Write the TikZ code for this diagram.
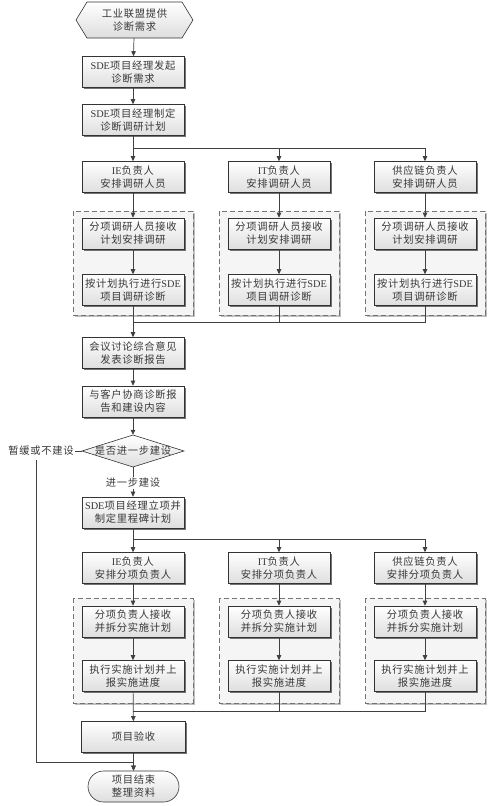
\documentclass[tikz,border=0pt]{standalone}
\usepackage{fontspec}
\setmainfont{Noto Sans CJK SC}[LetterSpace=7]
\newfontfamily\lat{Liberation Serif}
\usetikzlibrary{shadows,arrows.meta,shapes.misc}
\begin{document}
\begin{tikzpicture}[x=1pt,y=-1pt,
  font=\fontsize{10.3}{13}\selectfont,
  every node/.style={text=black!78},
  shd/.style={drop shadow={shadow xshift=1.8pt,shadow yshift=-1.8pt,fill=black!55,opacity=1}},
  grad/.style={top color=white,bottom color=black!13},
  box/.style={draw=black!80,line width=0.6pt,grad,shd,minimum width=102,minimum height=31,inner sep=1pt,align=center},
  grp/.style={draw=black!55,line width=1pt,dash pattern=on 5pt off 3pt,fill=black!4,
    drop shadow={shadow xshift=1.5pt,shadow yshift=-1.5pt,fill=black!25,opacity=1}},
  ln/.style={draw=black!75,line width=0.7pt},
  arr/.style={ln,-{Triangle[length=5pt,width=4.5pt]}},
  lbl/.style={inner sep=1pt,align=center}
]
\useasboundingbox (0,0) rectangle (491,806);

% ---------- start hexagon
\path[draw=black!80,line width=0.6pt,grad] (76,20) -- (87,2) -- (182,2) -- (193,20) -- (182,38) -- (87,38) -- cycle;
\node[lbl,minimum width=117,minimum height=36] (start) at (134.5,20) {工业联盟提供\\诊断需求};

\node[box] (b2) at (133,72) {{\lat SDE}项目经理发起\\诊断需求};
\node[box] (b3) at (133,120) {{\lat SDE}项目经理制定\\诊断调研计划};

% ---------- groups row 1
\path[grp] (73,211) rectangle (193,315);
\path[grp] (219,211) rectangle (339,315);
\path[grp] (365,211) rectangle (485,315);

\node[box] (a1) at (133,177) {{\lat IE}负责人\\安排调研人员};
\node[box] (a2) at (279,177) {{\lat IT}负责人\\安排调研人员};
\node[box] (a3) at (425,177) {供应链负责人\\安排调研人员};

\node[box] (c1) at (133,233.5) {分项调研人员接收\\计划安排调研};
\node[box] (c2) at (279,233.5) {分项调研人员接收\\计划安排调研};
\node[box] (c3) at (425,233.5) {分项调研人员接收\\计划安排调研};

\node[box] (d1) at (133,290) {按计划执行进行{\lat SDE}\\项目调研诊断};
\node[box] (d2) at (279,290) {按计划执行进行{\lat SDE}\\项目调研诊断};
\node[box] (d3) at (425,290) {按计划执行进行{\lat SDE}\\项目调研诊断};

\node[box] (m) at (133,353) {会议讨论综合意见\\发表诊断报告};
\node[box] (n) at (133,401.5) {与客户协商诊断报\\告和建设内容};

% ---------- decision
\path[draw=black!80,line width=0.6pt,grad] (82,451) -- (133,435) -- (184,451) -- (133,467) -- cycle;
\node[lbl,minimum width=102,minimum height=32,inner sep=0] (dia) at (133,451) {是否进一步建设};
\node[lbl,anchor=east] (no) at (75,451) {暂缓或不建设};
\node[lbl] (yes) at (133,483) {进一步建设};

\node[box] (p) at (133,512.5) {{\lat SDE}项目经理立项并\\制定里程碑计划};

% ---------- groups row 2
\path[grp] (73,598) rectangle (193,703);
\path[grp] (219,598) rectangle (339,703);
\path[grp] (365,598) rectangle (485,703);

\node[box] (e1) at (133,568) {{\lat IE}负责人\\安排分项负责人};
\node[box] (e2) at (279,568) {{\lat IT}负责人\\安排分项负责人};
\node[box] (e3) at (425,568) {供应链负责人\\安排分项负责人};

\node[box] (f1) at (133,621.5) {分项负责人接收\\并拆分实施计划};
\node[box] (f2) at (279,621.5) {分项负责人接收\\并拆分实施计划};
\node[box] (f3) at (425,621.5) {分项负责人接收\\并拆分实施计划};

\node[box] (g1) at (133,676) {执行实施计划并上\\报实施进度};
\node[box] (g2) at (279,676) {执行实施计划并上\\报实施进度};
\node[box] (g3) at (425,676) {执行实施计划并上\\报实施进度};

\node[box,minimum width=104] (acc) at (133.5,737) {项目验收};
\node[draw=black!80,line width=0.6pt,grad,rounded rectangle,minimum width=93,minimum height=31,inner sep=1pt,align=center] (end) at (133.5,786.5) {项目结束\\整理资料};

% ---------- coordinates
\coordinate (br1) at (133,148);
\coordinate (mg1) at (133,322);
\coordinate (br2) at (133,539);
\coordinate (mg2) at (133,711);
\coordinate (r1) at (36,460);
\coordinate (r2) at (36,762);

% ---------- connectors
\draw[arr] (start) -- (b2);
\draw[arr] (b2) -- (b3);
\draw[arr] (b3) -- (a1);
\draw[arr] (br1) -| (a2);
\draw[arr] (br1) -| (a3);
\draw[arr] (a1) -- (c1);
\draw[arr] (a2) -- (c2);
\draw[arr] (a3) -- (c3);
\draw[arr] (c1) -- (d1);
\draw[arr] (c2) -- (d2);
\draw[arr] (c3) -- (d3);
\draw[arr] (d1) -- (m);
\draw[ln] (d2) |- (mg1);
\draw[ln] (d3) |- (mg1);
\draw[arr] (m) -- (n);
\draw[arr] (n) -- (dia);
\draw[ln] (dia.west) -- (no.east);
\draw[ln] (dia) -- (yes);
\draw[arr] (yes) -- (p);
\draw[arr] (p) -- (e1);
\draw[arr] (br2) -| (e2);
\draw[arr] (br2) -| (e3);
\draw[arr] (e1) -- (f1);
\draw[arr] (e2) -- (f2);
\draw[arr] (e3) -- (f3);
\draw[arr] (f1) -- (g1);
\draw[arr] (f2) -- (g2);
\draw[arr] (f3) -- (g3);
\draw[arr] (g1) -- (acc);
\draw[ln] (g2) |- (mg2);
\draw[ln] (g3) |- (mg2);
\draw[arr] (acc) -- (end);
\draw[arr] (r1) -- (r2) -| (end);
\end{tikzpicture}
\end{document}
